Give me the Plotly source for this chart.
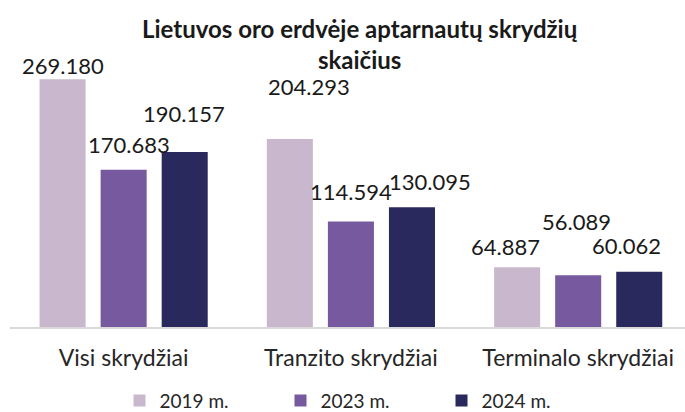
import plotly.graph_objects as go

categories = ["Visi skrydžiai", "Tranzito skrydžiai", "Terminalo skrydžiai"]
series_names = ["2019 m.", "2023 m.", "2024 m."]
values_2019 = [269180, 204293, 64887]
values_2023 = [170683, 114594, 56089]
values_2024 = [190157, 130095, 60062]
series_values = [values_2019, values_2023, values_2024]
colors = ["#c9b8cd", "#7759a0", "#2a295e"]

# label offsets (px) relative to bar top-center, style only
label_dx = [[0, 5, -1], [19, 0, 18], [-12, -2, -13]]
label_dy = [[14, 25, 38], [52, 30, 26], [21, 54, 26]]
slot_px = 61
series_shift = [-1, 0, 1]

FONT = "Lato"

def fmt(v):
    return f"{v:,}".replace(",", ".")

fig = go.Figure()
for name, vals, col in zip(series_names, series_values, colors):
    fig.add_trace(go.Bar(x=categories, y=vals, name=name, marker_color=col,
                         marker_line_width=0))

annotations = []
for j, vals in enumerate(series_values):
    for i, v in enumerate(vals):
        annotations.append(dict(
            x=categories[i], y=v, xref="x", yref="y",
            text=fmt(v), showarrow=False,
            xshift=series_shift[j] * slot_px + label_dx[i][j],
            yshift=label_dy[i][j], yanchor="middle", xanchor="center",
            font=dict(family=FONT, size=22, color="#1a1a1a")))

fig.update_layout(
    width=685, height=412,
    margin=dict(l=10, r=0, t=60, b=85, autoexpand=False),
    paper_bgcolor="white", plot_bgcolor="white",
    barmode="group", bargap=0.194, bargroupgap=0.246,
    title=dict(text="<b>Lietuvos oro erdvėje aptarnautų skrydžių<br>skaičius</b>",
               x=0.525, xanchor="center", y=0.908, yanchor="top",
               font=dict(family=FONT, size=24, color="#1a1a1a")),
    font=dict(family=FONT, size=18, color="#262626"),
    showlegend=True,
    legend=dict(orientation="h", x=0.52, xanchor="center", y=-0.205, yanchor="top",
                font=dict(family=FONT, size=19, color="#262626"),
                itemwidth=30, entrywidth=116, traceorder="normal"),
    annotations=annotations,
)
fig.update_xaxes(range=[-0.5, 2.47], showline=True, linecolor="#d9d9d9", linewidth=1.5,
                 showgrid=False, ticks="outside", ticklen=10, tickcolor="rgba(0,0,0,0)",
                 automargin=False,
                 tickfont=dict(family=FONT, size=23, color="#262626"))
fig.update_yaxes(range=[0, 290000], visible=False, showgrid=False, zeroline=False,
                 automargin=False)

fig.write_html("out.html", config={"displayModeBar": False},
               post_script="document.body.style.margin='0';")
